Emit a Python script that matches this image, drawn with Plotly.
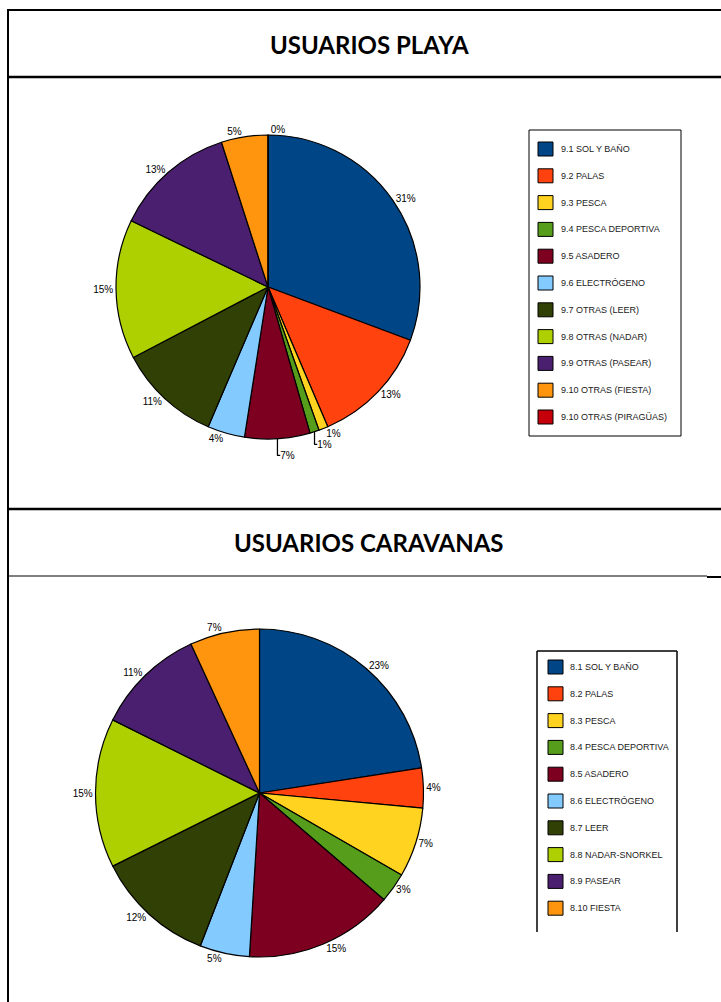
import plotly.graph_objects as go

W, H = 721, 1002

# --- data -------------------------------------------------------------
playa_labels = [
    "9.1 SOL Y BAÑO", "9.2 PALAS", "9.3 PESCA", "9.4 PESCA DEPORTIVA",
    "9.5 ASADERO", "9.6 ELECTRÓGENO", "9.7 OTRAS (LEER)", "9.8 OTRAS (NADAR)",
    "9.9 OTRAS (PASEAR)", "9.10 OTRAS (FIESTA)", "9.10 OTRAS (PIRAGÜAS)",
]
playa_values = [31, 13, 1, 1, 7, 4, 11, 15, 13, 5, 0]

caravanas_labels = [
    "8.1 SOL Y BAÑO", "8.2 PALAS", "8.3 PESCA", "8.4 PESCA DEPORTIVA",
    "8.5 ASADERO", "8.6 ELECTRÓGENO", "8.7 LEER", "8.8 NADAR-SNORKEL",
    "8.9 PASEAR", "8.10 FIESTA",
]
caravanas_values = [23, 4, 7, 3, 15, 5, 12, 15, 11, 7]

palette = [
    "#004586", "#ff420e", "#ffd320", "#579d1c", "#7e0021", "#83caff",
    "#314004", "#aecf00", "#4b1f6f", "#ff950e", "#c5000b",
]


def px(x):
    return x / W


def py(y):
    return 1 - y / H


def pie_domain(cx, cy, r):
    return dict(x=[px(cx - r), px(cx + r)], y=[py(cy + r), py(cy - r)])


fig = go.Figure()

label_font = dict(family="Liberation Sans, Arial, sans-serif", size=10, color="#000000")

fig.add_trace(go.Pie(
    labels=playa_labels, values=playa_values,
    marker=dict(colors=palette[:len(playa_values)], line=dict(color="#000000", width=1.2)),
    sort=False, direction="clockwise", rotation=0,
    textposition="outside", texttemplate="%{value}%",
    outsidetextfont=label_font, textfont=label_font,
    domain=pie_domain(268, 287, 152), showlegend=False,
))

fig.add_trace(go.Pie(
    labels=caravanas_labels, values=caravanas_values,
    marker=dict(colors=palette[:len(caravanas_values)], line=dict(color="#000000", width=1.2)),
    sort=False, direction="clockwise", rotation=0,
    textposition="outside", texttemplate="%{value}%",
    outsidetextfont=label_font, textfont=label_font,
    domain=pie_domain(259.5, 793, 164), showlegend=False,
))

shapes = []
annotations = []


def hline(x0, x1, y, w):
    shapes.append(dict(type="line", xref="paper", yref="paper",
                       x0=px(x0), x1=px(x1), y0=py(y), y1=py(y),
                       line=dict(color="#000000", width=w)))


def vline(x, y0, y1, w):
    shapes.append(dict(type="line", xref="paper", yref="paper",
                       x0=px(x), x1=px(x), y0=py(y0), y1=py(y1),
                       line=dict(color="#000000", width=w)))


# page frame and title boxes
vline(8, 9, 1002, 2)
hline(7, 721, 10, 2)
hline(7, 721, 77, 2.5)
hline(7, 721, 509, 2.5)
hline(7, 707, 576, 1)
hline(707, 721, 577, 2)

title_font = dict(family="Lato, Open Sans, sans-serif", size=24, color="#000000")
for text, cy in [("<b>USUARIOS PLAYA</b>", 45), ("<b>USUARIOS CARAVANAS</b>", 542)]:
    annotations.append(dict(text=text, x=px(369), y=py(cy), xref="paper", yref="paper",
                            xanchor="center", yanchor="middle", showarrow=False,
                            font=title_font))


def legend_box(labels, x0, y0, x1, y1, sw_x, txt_x, first_cy, step, closed=True):
    # frame
    if closed:
        shapes.append(dict(type="rect", xref="paper", yref="paper",
                           x0=px(x0), x1=px(x1), y0=py(y1), y1=py(y0),
                           line=dict(color="#000000", width=1), fillcolor="rgba(0,0,0,0)"))
    else:
        hline(x0, x1, y0, 1.5)
        vline(x0, y0, y1, 1.5)
        vline(x1, y0, y1, 1.5)
    for i, lab in enumerate(labels):
        cy = first_cy + i * step
        shapes.append(dict(type="rect", xref="paper", yref="paper",
                           x0=px(sw_x), x1=px(sw_x + 15), y0=py(cy + 7), y1=py(cy - 7),
                           line=dict(color="#000000", width=1), fillcolor=palette[i]))
        annotations.append(dict(text=lab, x=px(txt_x), y=py(cy), xref="paper", yref="paper",
                                xanchor="left", yanchor="middle", showarrow=False,
                                font=dict(family="Liberation Sans, Arial, sans-serif",
                                          size=9, color="#1a1a1a")))


legend_box(playa_labels, 529, 130, 681, 436, 538, 559, 149, 26.8)
legend_box(caravanas_labels, 537, 651, 677, 932, 548, 568, 667, 26.8, closed=False)

fig.update_layout(
    width=W, height=H,
    margin=dict(l=0, r=0, t=0, b=0),
    paper_bgcolor="#ffffff", plot_bgcolor="#ffffff",
    shapes=shapes, annotations=annotations,
)

fig.write_html("out.html")
